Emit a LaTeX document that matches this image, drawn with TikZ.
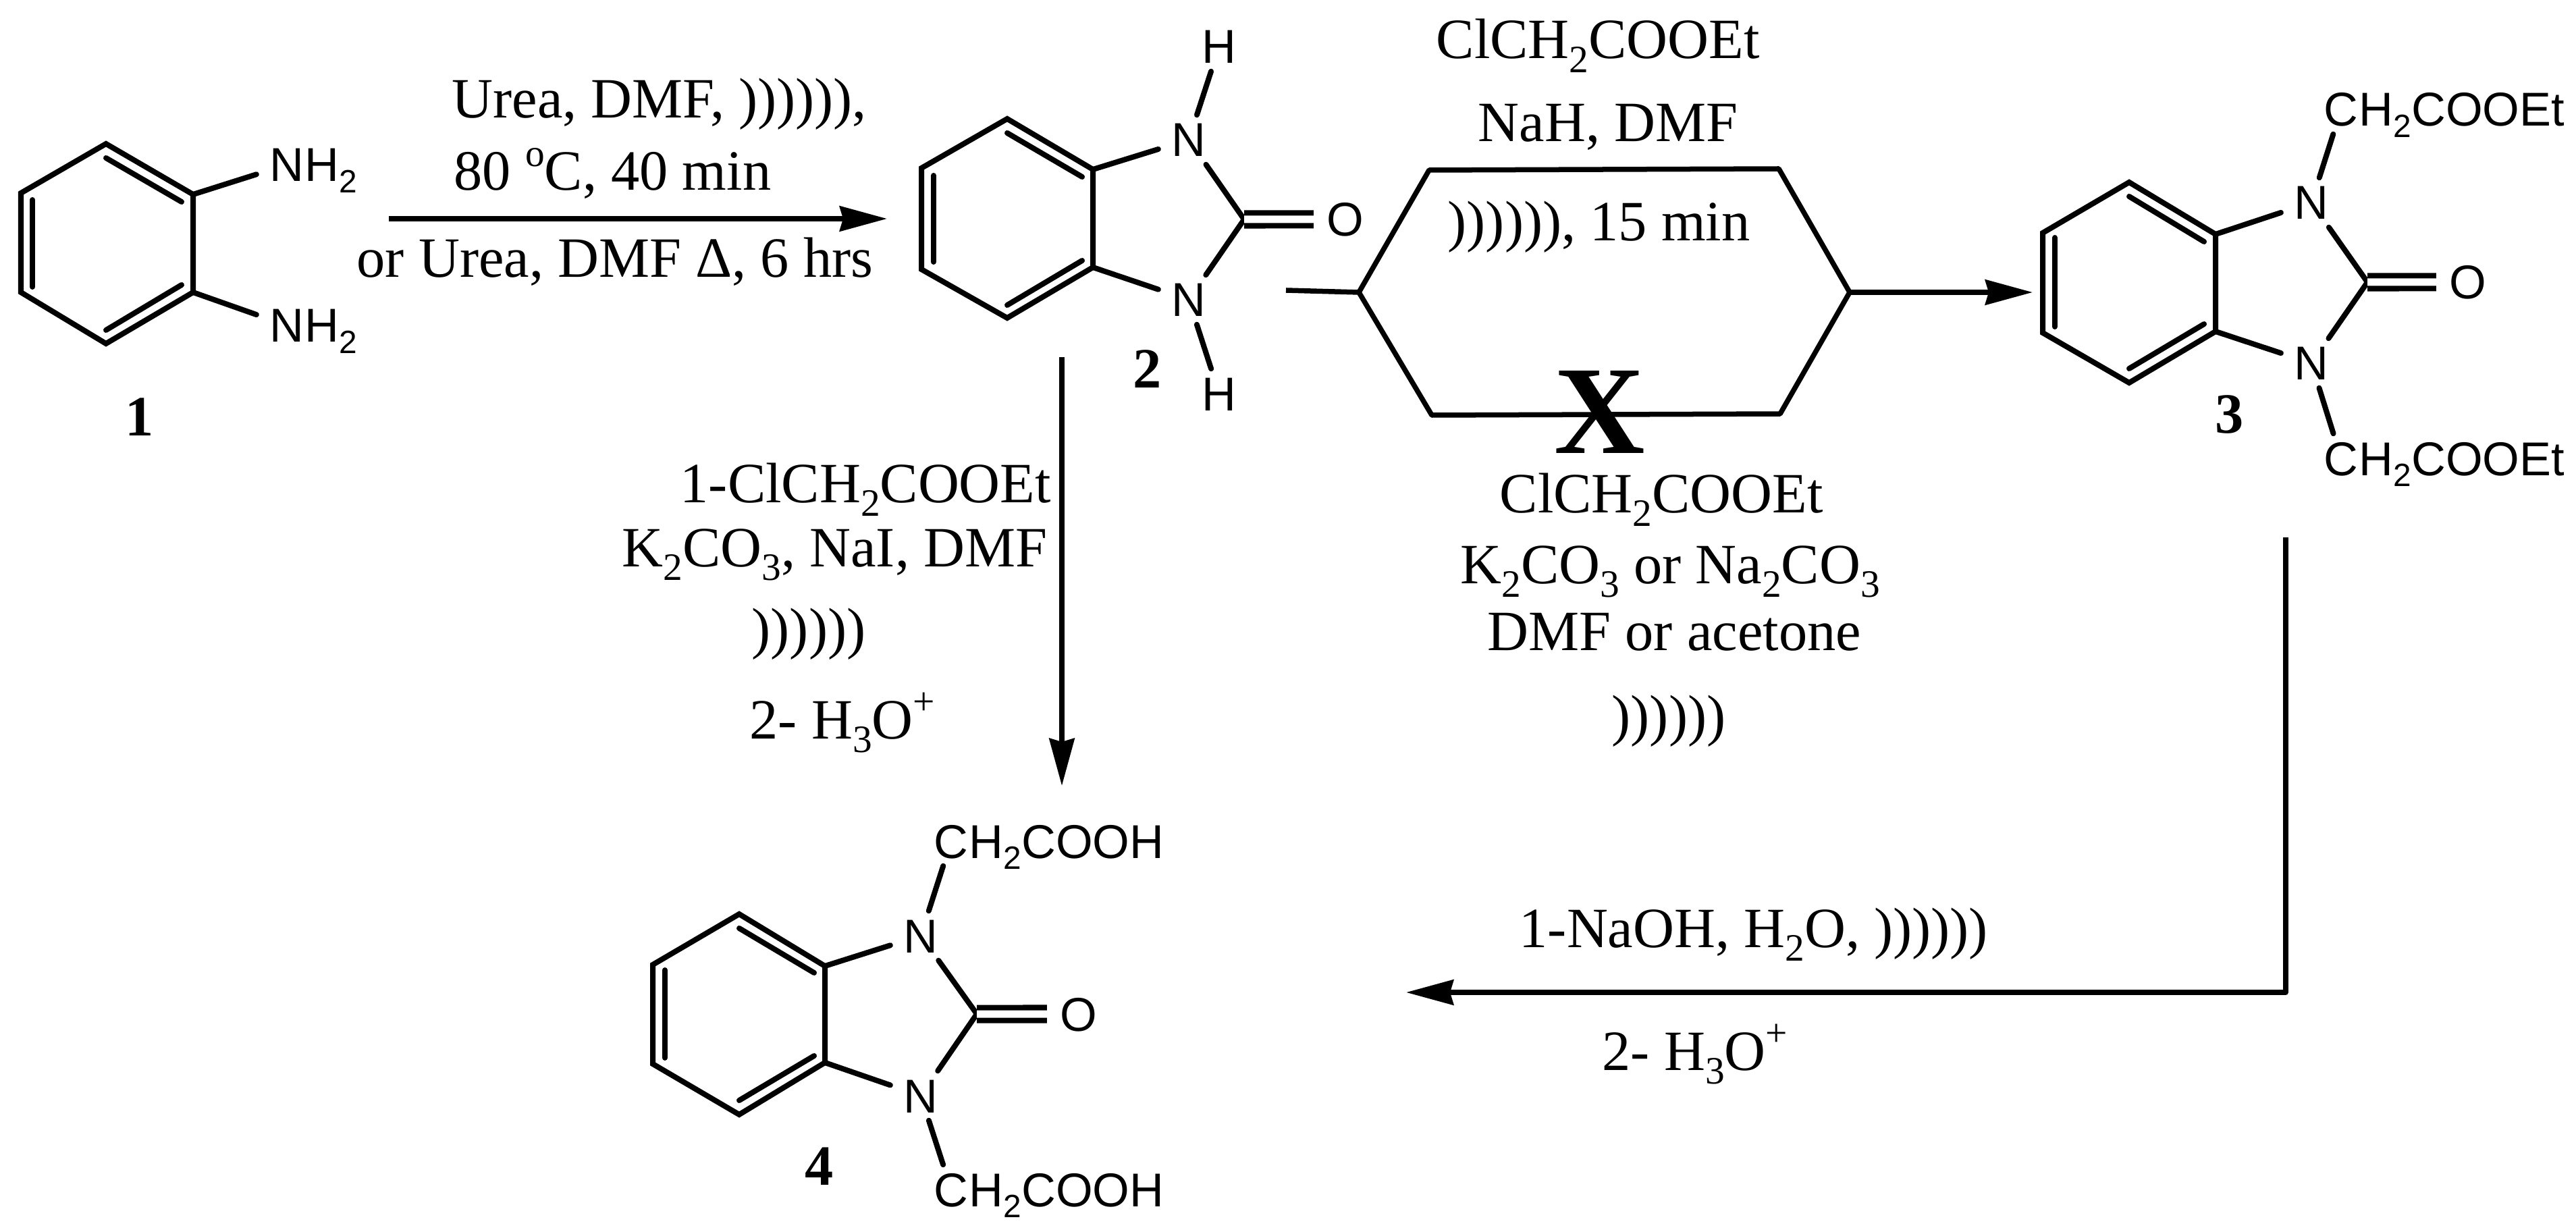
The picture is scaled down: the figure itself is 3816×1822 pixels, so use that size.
\documentclass[tikz,border=0pt]{standalone}
\usepackage{fontspec}
\setmainfont{Liberation Serif}
\setsansfont{Liberation Sans}
\usetikzlibrary{arrows.meta}
\newcommand{\dn}[1]{\raisebox{-0.24em}{\scalebox{.68}{#1}}}
\newcommand{\up}[1]{\raisebox{0.42em}{\scalebox{.68}{#1}}}
\begin{document}
\begin{tikzpicture}[x=0.01cm, y=-0.01cm]
\tikzstyle{bond}=[line width=0.08cm, line cap=round, line join=miter]
\tikzstyle{dbl}=[draw, line width=0.08cm, double, double distance=0.11cm, line cap=butt]
\tikzstyle{rxn}=[line width=0.075cm, line join=round]
\tikzstyle{head}=[-{Stealth[length=0.7cm, width=0.37cm, inset=0.05cm]}]
\tikzstyle{atom}=[anchor=base, font=\sffamily\fontsize{20}{23}\selectfont, text height=0.5cm, text depth=0pt, inner xsep=0.19cm, inner ysep=0.11cm]
\tikzstyle{tail}=[anchor=base west, font=\sffamily\fontsize{20}{23}\selectfont, inner sep=0pt, xshift=-0.19cm]
\tikzstyle{cond}=[anchor=base west, font=\fontsize{24}{28}\selectfont, inner sep=0pt]
\tikzstyle{tag}=[anchor=base, font=\bfseries\fontsize{24}{28}\selectfont, inner sep=0pt]
\useasboundingbox (0,0) rectangle (3816,1822);
  % ring corners, then the ends of the inner lines
  \foreach \place/\name in {{(157,213)/a1},{(286,288)/a2},{(286,433)/a3},{(157,509)/a4},{(31,433)/a5},{(31,286)/a6},
                            {(157,234)/a7},{(269,299)/a8},{(157,489)/a9},{(269,422)/a10},{(48,296)/a11},{(48,425)/a12},
                            {(1492,176)/b1},{(1619,251)/b2},{(1619,396)/b3},{(1492,471)/b4},{(1365,399)/b5},{(1365,249)/b6},
                            {(1492,197)/b7},{(1603,262)/b8},{(1492,452)/b9},{(1603,386)/b10},{(1383,260)/b11},{(1383,388)/b12},
                            {(3154,270)/c1},{(3282,347)/c2},{(3282,491)/c3},{(3154,567)/c4},{(3026,493)/c5},{(3026,345)/c6},
                            {(3154,291)/c7},{(3265,358)/c8},{(3154,546)/c9},{(3265,480)/c10},{(3044,352)/c11},{(3044,484)/c12},
                            {(1095,1354)/d1},{(1222,1431)/d2},{(1222,1574)/d3},{(1095,1651)/d4},{(967,1576)/d5},{(967,1429)/d6},
                            {(1095,1375)/d7},{(1206,1441)/d8},{(1095,1630)/d9},{(1206,1564)/d10},{(985,1437)/d11},{(985,1567)/d12},
                            {(1843,325)/bco},{(3507,418)/cco},{(1447,1502)/dco},
                            {(1905,430)/stub},{(2013,433)/hexl},{(2117,252)/hextl},{(2635,250)/hextr},{(2740,433)/hexr},{(2637,613)/hexbr},{(2121,615)/hexbl},
                            {(576,324)/rxna},{(1314,324)/rxnb},{(3011,433)/rxnc},{(1573,529)/rxnd},{(1573,1164)/rxne},
                            {(3386,796)/rxnf},{(3386,1470)/rxng},{(2083,1470)/rxnh}}
    \node[coordinate] (\name) at \place {};
  % atoms
  \foreach \place/\name in {{(425,269)/an1},{(425,507)/an2},{(1761,232)/bn1},{(1761,469)/bn2},
                            {(3424,325)/cn1},{(3424,563)/cn2},{(1364,1411)/dn1},{(1364,1648)/dn2}}
    \node[atom] (\name) at \place {N};
  \foreach \place/\name in {{(1806,94)/bh1},{(1806,608)/bh2}}
    \node[atom] (\name) at \place {H};
  \foreach \place/\name in {{(1993,350)/boxy},{(3656,443)/coxy},{(1598,1527)/doxy}}
    \node[atom] (\name) at \place {O};
  \foreach \place/\name in {{(3468,187)/cc1},{(3468,704)/cc2},{(1409,1271)/dc1},{(1409,1787)/dc2}}
    \node[atom] (\name) at \place {C};
  \node[tail] (an1t) at (an1.base east) {H\dn{2}};
  \node[tail] (an2t) at (an2.base east) {H\dn{2}};
  \node[tail] (cc1t) at (cc1.base east) {H\dn{2}COOEt};
  \node[tail] (cc2t) at (cc2.base east) {H\dn{2}COOEt};
  \node[tail] (dc1t) at (dc1.base east) {H\dn{2}COOH};
  \node[tail] (dc2t) at (dc2.base east) {H\dn{2}COOH};
  % rings
  \foreach \mol in {a,b,c,d} {
    \draw[bond] (\mol1) -- (\mol2) -- (\mol3) -- (\mol4) -- (\mol5) -- (\mol6) -- cycle;
    \foreach \source/\dest in {7/8,9/10,11/12}
      \path[bond] (\mol\source) edge (\mol\dest);
  }
  % bonds
  \foreach \source/\dest in {a2/an1,a3/an2,b2/bn1,b3/bn2,bn1/bco,bn2/bco,bn1/bh1,bn2/bh2,
                             c2/cn1,c3/cn2,cn1/cco,cn2/cco,cn1/cc1,cn2/cc2,
                             d2/dn1,d3/dn2,dn1/dco,dn2/dco,dn1/dc1,dn2/dc2}
      \path[bond] (\source) edge (\dest);
  \foreach \source/\dest in {bco/boxy,cco/coxy,dco/doxy}
      \path (\source) edge[dbl] (\dest);
  % reaction arrows
  \draw[rxn] (stub) -- (hexl) -- (hextl) -- (hextr) -- (hexr) -- (hexbr) -- (hexbl) -- (hexl);
  \path[rxn] (rxna) edge[head] (rxnb);
  \path[rxn] (hexr) edge[head] (rxnc);
  \path[rxn] (rxnd) edge[head] (rxne);
  \draw[rxn, head] (rxnf) -- (rxng) -- (rxnh);
  % conditions
  \node[cond] (t1) at (669,175) {Urea, DMF, )))))),};
  \node[cond] (t2) at (672,282) {80 \up{o}C, 40 min};
  \node[cond] (t3) at (528,411) {or Urea, DMF Δ, 6 hrs};
  \node[cond] (t4) at (2127,87) {ClCH\dn{2}COOEt};
  \node[cond] (t5) at (2189,210) {NaH, DMF};
  \node[cond] (t6) at (2144,357) {)))))), 15 min};
  \node[anchor=base, font=\bfseries\fontsize{53}{60}\selectfont, inner sep=0pt] (cross) at (2370,671) {X};
  \node[cond] (t7) at (2221,759) {ClCH\dn{2}COOEt};
  \node[cond] (t8) at (2163,864) {K\dn{2}CO\dn{3} or Na\dn{2}CO\dn{3}};
  \node[cond] (t9) at (2203,963) {DMF or acetone};
  \node[cond] (t10) at (2387,1088) {))))))};
  \node[cond] (t11) at (1007,744) {1-ClCH\dn{2}COOEt};
  \node[cond] (t12) at (921,839) {K\dn{2}CO\dn{3}, NaI, DMF};
  \node[cond] (t13) at (1113,959) {))))))};
  \node[cond] (t14) at (1110,1094) {2- H\dn{3}O\up{+}};
  \node[cond] (t15) at (2250,1403) {1-NaOH, H\dn{2}O, ))))))};
  \node[cond] (t16) at (2373,1585) {2- H\dn{3}O\up{+}};
  % compound numbers
  \node[tag] (m1) at (207,646) {1};
  \node[tag] (m2) at (1700,575) {2};
  \node[tag] (m3) at (3303,641) {3};
  \node[tag] (m4) at (1214,1755) {4};
\end{tikzpicture}
\end{document}
